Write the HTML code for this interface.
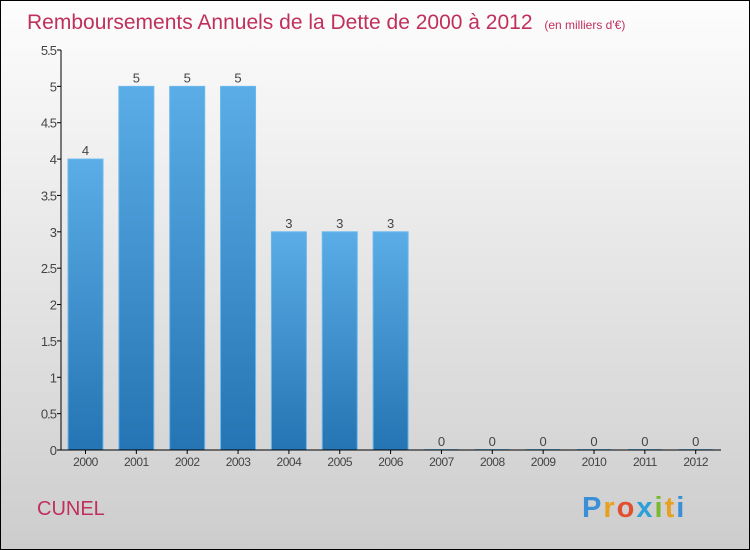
<!DOCTYPE html>
<html><head><meta charset="utf-8"><style>
body{margin:0}
svg{display:block;font-family:"Liberation Sans",sans-serif}
</style></head><body>
<svg width="750" height="550">
<defs>
<linearGradient id="bg" x1="0" y1="0" x2="0" y2="1"><stop offset="0" stop-color="#fdfdfd"/><stop offset="1" stop-color="#cdcdcd"/></linearGradient>
<linearGradient id="bar" x1="0" y1="0" x2="0" y2="1"><stop offset="0" stop-color="#5aade6"/><stop offset="1" stop-color="#2574b3"/></linearGradient>
</defs>
<rect x="0.5" y="0.5" width="749" height="549" fill="url(#bg)" stroke="#000"/>
<text x="27" y="29" font-size="21" fill="#c0305c">Remboursements Annuels de la Dette de 2000 à 2012 <tspan font-size="12" dx="6">(en milliers d'€)</tspan></text>
<g id="ticks"></g>
<g id="bars"></g>
<line x1="61" y1="50" x2="61" y2="450" stroke="#000"/>
<line x1="61" y1="450" x2="721" y2="450" stroke="#000"/>
<text x="37" y="515" font-size="20" fill="#c0305c">CUNEL</text>
<text x="582" y="517" font-size="29" font-weight="bold" letter-spacing="2"><tspan fill="#3a8fd6">P</tspan><tspan fill="#e8a020">r</tspan><tspan fill="#e05030">o</tspan><tspan fill="#2f9fd8">x</tspan><tspan fill="#7cb82f">i</tspan><tspan fill="#e8a020">t</tspan><tspan fill="#3a8fd6">i</tspan></text>
</svg>
<script>
const years=["2000","2001","2002","2003","2004","2005","2006","2007","2008","2009","2010","2011","2012"];
const values=[4,5,5,5,3,3,3,0,0,0,0,0,0];
const labels=["4","5","5","5","3","3","3","0","0","0","0","0","0"];
const yTicks=[0,0.5,1,1.5,2,2.5,3,3.5,4,4.5,5,5.5];
const ns="http://www.w3.org/2000/svg";
const y=v=>450-v*(400/5.5);
const xc=i=>85.5+i*50.85;
function mk(t,a,p){const e=document.createElementNS(ns,t);for(const k in a)e.setAttribute(k,a[k]);p.appendChild(e);return e;}
const tg=document.getElementById('ticks'),bg=document.getElementById('bars');
yTicks.forEach(v=>{
 const l=mk('line',{x1:57,x2:61,y1:y(v),y2:y(v),stroke:'#000'},tg);
 
 
 const t=mk('text',{x:56,y:y(v)+5,'text-anchor':'end','font-size':13,fill:'#444','letter-spacing':'-1'},tg);
 t.textContent=String(v);
 
 
});
years.forEach((yr,i)=>{
 const x=xc(i),v=values[i];
 if(v>0){
  const r=mk('rect',{x:x-17.5,y:y(v),width:35,height:450-y(v),fill:'url(#bar)',stroke:'#6ab8ee','stroke-width':1},bg);
  
  
 } else {
  const r=mk('line',{x1:x-17,x2:x+17,y1:449.5,y2:449.5,stroke:'#6ab8ee'},bg);
  
  
 }
 const vl=mk('text',{x:x,y:y(v)-4,'text-anchor':'middle','font-size':13,fill:'#444'},bg);
 vl.textContent=labels[i];
 
 
 const tk=mk('line',{x1:x,x2:x,y1:450,y2:454,stroke:'#000'},bg);
 
 
 const xl=mk('text',{x:x,y:466,'text-anchor':'middle','font-size':12,fill:'#444','letter-spacing':'-0.5'},bg);
 xl.textContent=yr;
 
 
});
</script>
</body></html>
